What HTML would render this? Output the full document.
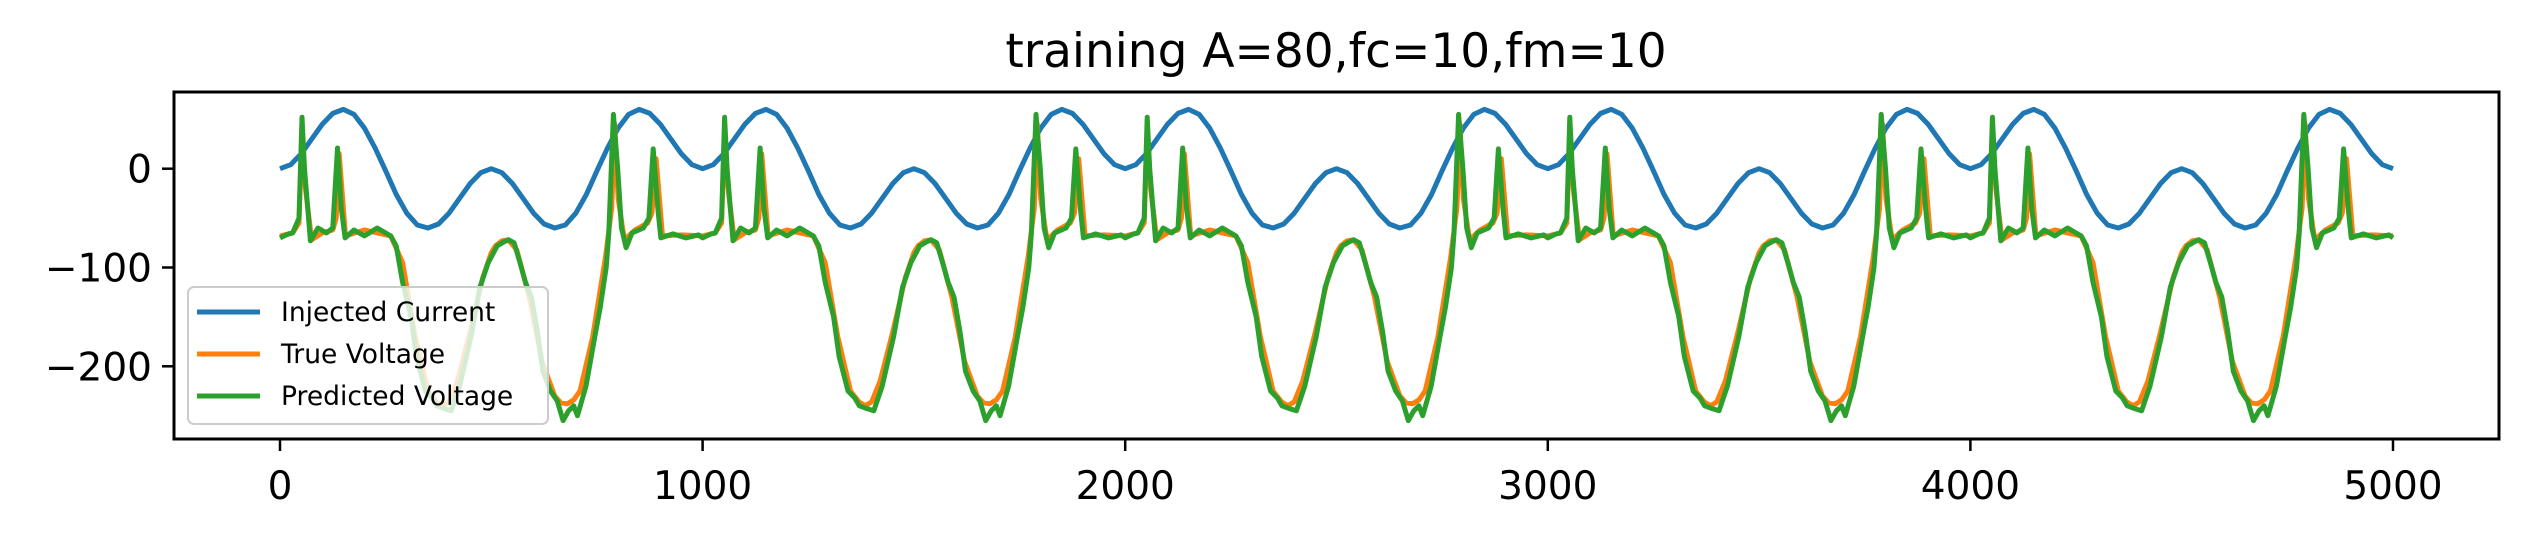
<!DOCTYPE html>
<html><head><meta charset="utf-8"><style>
html,body{margin:0;padding:0;background:#fff;}
svg{display:block;font-family:"DejaVu Sans","Liberation Sans",sans-serif;}
</style></head><body>
<svg id="chart" width="2528" height="540" viewBox="0 0 2528 540">
<text x="1336" y="67" font-size="47" text-anchor="middle">training A=80,fc=10,fm=10</text>
<g id="plot"></g>
<rect x="174" y="92" width="2325" height="347" fill="none" stroke="#000" stroke-width="3"/>
<g id="xticks"></g>
<g id="yticks"></g>
<g>
<rect x="188" y="287" width="360" height="137" rx="6" fill="#fff" fill-opacity="0.8" stroke="#ccc" stroke-width="2"/>
<line x1="197" y1="312" x2="260" y2="312" stroke="#1f77b4" stroke-width="5"/>
<text x="281" y="321" font-size="26.5">Injected Current</text>
<line x1="197" y1="354" x2="260" y2="354" stroke="#ff7f0e" stroke-width="5"/>
<text x="281" y="363" font-size="26.5">True Voltage</text>
<line x1="197" y1="396" x2="260" y2="396" stroke="#2ca02c" stroke-width="5"/>
<text x="281" y="405" font-size="26.5">Predicted Voltage</text>
</g>
</svg>
<script>
const xTicks = [0, 1000, 2000, 3000, 4000, 5000];
const xTickLabels = ["0", "1000", "2000", "3000", "4000", "5000"];
const yTicks = [0, -100, -200];
const yTickLabels = ["0", "\u2212100", "\u2212200"];
const periodLength = 1000;
const periodCount = 5;
const currentT = [0,25,50,75,100,125,150,175,200,225,250,275,300,325,350,375,400,425,450,475,500,525,550,575,600,625,650,675,700,725,750,775,800,825,850,875,900,925,950,975];
const currentV = [0,4,15,30,45,56,60,55,41,21,-2,-26,-45,-57,-60,-56,-45,-30,-15,-4,0,-4,-15,-30,-45,-56,-60,-57,-45,-26,-2,21,41,55,60,56,45,30,15,4];
const trueT = [0,30,45,52,60,75,100,125,133,140,155,200,262,290,320,350,370,385,400,420,450,480,500,510,525,540,560,590,620,650,665,680,695,710,740,770,785,792,800,815,840,870,880,890,905,950];
const trueV = [-68,-65,-55,42,-20,-72,-65,-62,-50,15,-68,-62,-68,-95,-170,-225,-236,-240,-236,-215,-165,-110,-85,-78,-73,-72,-82,-130,-195,-230,-237,-238,-234,-225,-170,-90,-40,45,-30,-72,-62,-55,-45,10,-68,-67];
const predT = [0,20,30,45,52,58,72,90,110,125,136,145,154,175,200,230,262,275,290,310,323,344,360,371,390,405,425,452,473,493,514,530,541,554,568,581,595,609,622,640,656,670,683,695,704,724,745,758,772,778,789,799,808,819,833,860,873,883,894,901,930,960,990];
const predV = [-70,-66,-65,-50,52,0,-73,-60,-65,-60,21,-40,-70,-62,-68,-60,-68,-78,-115,-150,-190,-225,-232,-240,-243,-245,-220,-170,-120,-95,-78,-74,-72,-75,-95,-115,-130,-165,-205,-225,-235,-255,-245,-240,-250,-220,-170,-140,-100,-65,55,0,-60,-80,-65,-60,-50,20,-40,-70,-66,-70,-67];

const X0 = 280, XS = 0.4226, Y0 = 168.7, YS = 0.988;
function xs(t){ return X0 + t*XS; }
function ys(v){ return Y0 - v*YS; }
const NS = "http://www.w3.org/2000/svg";

function repeatSeries(T, V){
  const pts = [];
  for (let p = 0; p < periodCount; p++) {
    for (let i = 0; i < T.length; i++) pts.push([T[i] + p*periodLength, V[i]]);
  }
  pts.push([periodCount*periodLength, V[0]]);
  return pts;
}
function drawLine(pts, color, name){
  const path = document.createElementNS(NS, "path");
  path.setAttribute("d", pts.map((p,i)=>(i?"L":"M")+xs(p[0]).toFixed(1)+","+ys(p[1]).toFixed(1)).join(""));
  path.setAttribute("fill","none");
  path.setAttribute("stroke",color);
  path.setAttribute("stroke-width","5");
  path.setAttribute("stroke-linejoin","round");
  
  
  document.getElementById("plot").appendChild(path);
}
drawLine(repeatSeries(currentT, currentV), "#1f77b4", "injected-current-line");
drawLine(repeatSeries(trueT, trueV), "#ff7f0e", "true-voltage-line");
drawLine(repeatSeries(predT, predV), "#2ca02c", "predicted-voltage-line");

const xg = document.getElementById("xticks");
xTicks.forEach((t,i)=>{
  const l = document.createElementNS(NS,"line");
  l.setAttribute("x1",xs(t)); l.setAttribute("x2",xs(t));
  l.setAttribute("y1",439); l.setAttribute("y2",451);
  l.setAttribute("stroke","#000"); l.setAttribute("stroke-width","2.5");
  
  
  xg.appendChild(l);
  const tx = document.createElementNS(NS,"text");
  tx.setAttribute("x",xs(t)); tx.setAttribute("y",499);
  tx.setAttribute("font-size","39"); tx.setAttribute("text-anchor","middle");
  tx.textContent = xTickLabels[i];
  
  
  xg.appendChild(tx);
});
const yg = document.getElementById("yticks");
yTicks.forEach((v,i)=>{
  const l = document.createElementNS(NS,"line");
  l.setAttribute("x1",162); l.setAttribute("x2",174);
  l.setAttribute("y1",ys(v)); l.setAttribute("y2",ys(v));
  l.setAttribute("stroke","#000"); l.setAttribute("stroke-width","2.5");
  
  
  yg.appendChild(l);
  const tx = document.createElementNS(NS,"text");
  tx.setAttribute("x",152); tx.setAttribute("y",ys(v)+14);
  tx.setAttribute("font-size","39"); tx.setAttribute("text-anchor","end");
  tx.textContent = yTickLabels[i];
  
  
  yg.appendChild(tx);
});
</script>
</body></html>
